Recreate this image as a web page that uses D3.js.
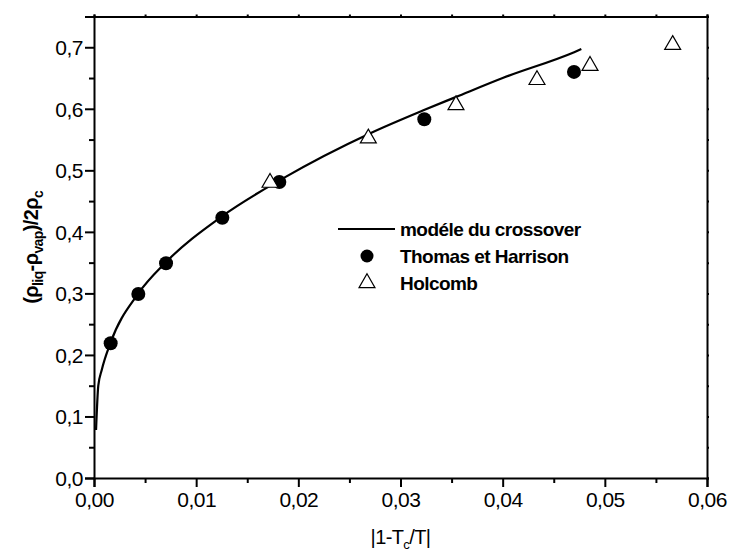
<!DOCTYPE html>
<html>
<head>
<meta charset="utf-8">
<script src="https://cdn.jsdelivr.net/npm/d3@7"></script>
<style>
  body { margin: 0; background: #fff; }
  svg text { font-family: "Liberation Sans", Arial, sans-serif; fill: #000; }
</style>
</head>
<body>
<div id="chart"></div>
<script>
// crossover model curve
var modelX = [0.0002, 0.00042, 0.00075, 0.0016, 0.0043, 0.007, 0.0125, 0.0185, 0.027, 0.0323, 0.0354, 0.04, 0.047, 0.0477];
var modelY = [0.078, 0.150, 0.175, 0.219, 0.299, 0.350, 0.425, 0.487, 0.560, 0.598, 0.619, 0.650, 0.692, 0.697];

// Thomas et Harrison
var thomasX = [0.00163, 0.00434, 0.00705, 0.01256, 0.01814, 0.03233, 0.04698];
var thomasY = [0.219, 0.299, 0.349, 0.423, 0.481, 0.583, 0.660];

// Holcomb
var holcombX = [0.01723, 0.02685, 0.03543, 0.04336, 0.04855, 0.05664];
var holcombY = [0.480, 0.552, 0.606, 0.647, 0.670, 0.704];

var xTicks = [0, 0.01, 0.02, 0.03, 0.04, 0.05, 0.06];
var yTicks = [0, 0.1, 0.2, 0.3, 0.4, 0.5, 0.6, 0.7];

var svgWidth = 731;
var svgHeight = 555;
var margin = { top: 16.5, right: 24, bottom: 77, left: 94 };
var width = svgWidth - margin.left - margin.right;
var height = svgHeight - margin.top - margin.bottom;

var svg = d3.select("#chart")
    .append("svg")
    .attr("width", svgWidth)
    .attr("height", svgHeight);

var g = svg.append("g")
    .attr("transform", `translate(${margin.left}, ${margin.top})`);

var x = d3.scaleLinear().domain([0, 0.06]).range([0, width]);
var y = d3.scaleLinear().domain([0, 0.75]).range([height, 0]);

var fmt = function(n) { return function(d) { return d3.format("." + n + "f")(d).replace(".", ","); }; };

// minor ticks
var xMinor = d3.range(0.005, 0.06, 0.01);
var yMinor = d3.range(0.05, 0.75, 0.1);

var bottomAxis = d3.axisBottom(x).tickValues(xTicks).tickFormat(fmt(2)).tickSize(9).tickPadding(3);
var leftAxis = d3.axisLeft(y).tickValues(yTicks).tickFormat(fmt(1)).tickSize(9).tickPadding(2);

var gx = g.append("g").attr("transform", `translate(0, ${height})`).call(bottomAxis);
var gy = g.append("g").call(leftAxis);

g.append("g").attr("transform", `translate(0, ${height})`)
    .call(d3.axisBottom(x).tickValues(xMinor).tickFormat("").tickSize(5))
    .select(".domain").remove();
g.append("g")
    .call(d3.axisLeft(y).tickValues(yMinor).tickFormat("").tickSize(5))
    .select(".domain").remove();

// top and right frame with small ticks
g.append("g")
    .call(d3.axisTop(x).tickValues(xTicks.concat(xMinor)).tickFormat("").tickSizeOuter(0).tickSize(2));
g.append("g").attr("transform", `translate(${width}, 0)`)
    .call(d3.axisRight(y).tickValues(yTicks.concat(yMinor)).tickFormat("").tickSizeOuter(0).tickSize(2));

g.selectAll(".domain").attr("stroke-width", 2).attr("stroke", "#000");
g.selectAll(".tick line").attr("stroke-width", 2).attr("stroke", "#000");
gx.selectAll("text").attr("font-size", 21).attr("letter-spacing", -0.5).attr("dy", "0.8em");
gy.selectAll("text").attr("font-size", 21).attr("letter-spacing", -0.5).attr("dy", "0.35em");

// model line
var line = d3.line().x(function(d) { return x(d[0]); }).y(function(d) { return y(d[1]); }).curve(d3.curveMonotoneX);
g.append("path")
    .datum(d3.zip(modelX, modelY))
    .attr("d", line)
    .attr("fill", "none")
    .attr("stroke", "#000")
    .attr("stroke-width", 2.2);

var tri = d3.symbol().type(d3.symbolTriangle).size(110);

g.selectAll(".thomas")
    .data(d3.zip(thomasX, thomasY))
    .enter()
    .append("circle")
    .attr("class", "thomas")
    .attr("cx", d => x(d[0]))
    .attr("cy", d => y(d[1]))
    .attr("r", 7)
    .attr("fill", "#000");

g.selectAll(".holcomb")
    .data(d3.zip(holcombX, holcombY))
    .enter()
    .append("path")
    .attr("class", "holcomb")
    .attr("d", tri)
    .attr("transform", d => `translate(${x(d[0])}, ${y(d[1])})`)
    .attr("fill", "#fff")
    .attr("stroke", "#000")
    .attr("stroke-width", 1.2);

// legend
var legend = svg.append("g").attr("transform", "translate(338, 229)");
legend.append("line").attr("x1", 0).attr("x2", 57).attr("y1", 0).attr("y2", 0)
    .attr("stroke", "#000").attr("stroke-width", 2.2);
legend.append("circle").attr("cx", 29).attr("cy", 27).attr("r", 6.5).attr("fill", "#000");
legend.append("path").attr("d", tri).attr("transform", "translate(29, 54)")
    .attr("fill", "#fff").attr("stroke", "#000").attr("stroke-width", 1.2);
var labels = ["modéle du crossover", "Thomas et Harrison", "Holcomb"];
legend.selectAll(".lab")
    .data(labels)
    .enter()
    .append("text")
    .attr("x", 62)
    .attr("y", (d, i) => i * 27)
    .attr("dy", "0.35em")
    .attr("font-size", 19)
    .attr("font-weight", "bold")
    .attr("letter-spacing", -0.55)
    .text(d => d);

// axis titles
var yt = svg.append("text")
    .attr("transform", `translate(38, ${margin.top + height / 2}) rotate(-90)`)
    .attr("text-anchor", "middle")
    .attr("font-size", 20)
    .attr("font-weight", "bold")
    .attr("letter-spacing", -0.6);
yt.append("tspan").text("(ρ");
yt.append("tspan").attr("font-size", 14).attr("dy", 5).text("liq");
yt.append("tspan").attr("dy", -5).text("-ρ");
yt.append("tspan").attr("font-size", 14).attr("dy", 5).text("vap");
yt.append("tspan").attr("dy", -5).text(")/2ρ");
yt.append("tspan").attr("font-size", 14).attr("dy", 5).text("c");

var xt = svg.append("text")
    .attr("x", margin.left + width / 2)
    .attr("y", 544)
    .attr("text-anchor", "middle")
    .attr("font-size", 20)
    .attr("letter-spacing", -0.6);
xt.append("tspan").text("|1-T");
xt.append("tspan").attr("font-size", 13).attr("dy", 5).text("c");
xt.append("tspan").attr("dy", -5).text("/T|");
</script>
</body>
</html>
